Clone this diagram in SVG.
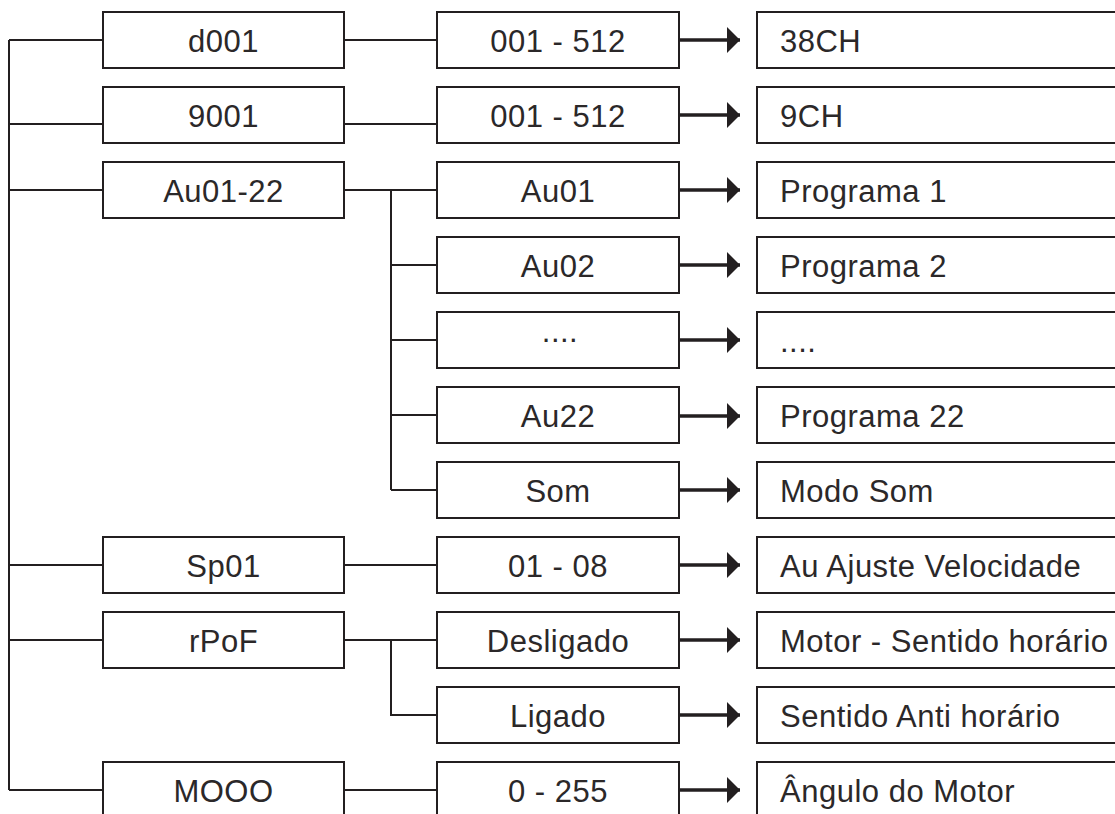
<svg xmlns="http://www.w3.org/2000/svg" width="1115" height="814" viewBox="0 0 1115 814">
<style>
.box{fill:#fff;stroke:#231f20;stroke-width:2}
.ln{fill:none;stroke:#231f20;stroke-width:2}
.ar{fill:none;stroke:#231f20;stroke-width:3.5}
text{font-family:"Liberation Sans",Arial,Helvetica,sans-serif;font-size:31px;fill:#2b2829;letter-spacing:0.5px}
.c{text-anchor:middle}
</style>
<defs>
<marker id="ah" markerUnits="userSpaceOnUse" markerWidth="14" markerHeight="26" refX="13" refY="13" orient="auto">
<path d="M0,0 L13,13 L0,26 Z" fill="#231f20"/>
</marker>
</defs>
<rect width="1115" height="814" fill="#fff"/>
<g id="connectors">
<path class="ln" d="M9,40 V790"/>
<path class="ln" d="M9,40 H103 M9,124 H103 M9,190 H103 M9,565 H103 M9,640 H103 M9,790 H103"/>
<path class="ln" d="M344,40 H437 M344,124 H437 M344,565 H437 M344,790 H437"/>
<path class="ln" d="M344,190 H437 M391,190 V490 M391,265 H437 M391,340 H437 M391,415 H437 M391,490 H437"/>
<path class="ln" d="M344,640 H437 M391,640 V715 H437"/>
<g class="ar" marker-end="url(#ah)">
<path d="M679,40 H740"/>
<path d="M679,115 H740"/>
<path d="M679,190 H740"/>
<path d="M679,265 H740"/>
<path d="M679,340 H740"/>
<path d="M679,416 H740"/>
<path d="M679,490 H740"/>
<path d="M679,565 H740"/>
<path d="M679,640 H740"/>
<path d="M679,715 H740"/>
<path d="M679,790 H740"/>
</g>
</g>
<g id="n-d001"><rect class="box" x="103" y="12" width="241" height="56"/><text class="c" x="223.5" y="52">d001</text></g>
<g id="n-9001"><rect class="box" x="103" y="87" width="241" height="56"/><text class="c" x="223.5" y="127">9001</text></g>
<g id="n-au0122"><rect class="box" x="103" y="162" width="241" height="56"/><text class="c" x="223.5" y="202">Au01-22</text></g>
<g id="n-sp01"><rect class="box" x="103" y="537" width="241" height="56"/><text class="c" x="223.5" y="577">Sp01</text></g>
<g id="n-rpof"><rect class="box" x="103" y="612" width="241" height="56"/><text class="c" x="223.5" y="652">rPoF</text></g>
<g id="n-mooo"><rect class="box" x="103" y="762" width="241" height="56"/><text class="c" x="223.5" y="802">MOOO</text></g>

<g id="n-r1"><rect class="box" x="437" y="12" width="242" height="56"/><text class="c" x="558" y="52">001 - 512</text></g>
<g id="n-r2"><rect class="box" x="437" y="87" width="242" height="56"/><text class="c" x="558" y="127">001 - 512</text></g>
<g id="n-au01"><rect class="box" x="437" y="162" width="242" height="56"/><text class="c" x="558" y="202">Au01</text></g>
<g id="n-au02"><rect class="box" x="437" y="237" width="242" height="56"/><text class="c" x="558" y="277">Au02</text></g>
<g id="n-dots"><rect class="box" x="437" y="312" width="242" height="56"/><text class="c" x="560" y="342">....</text></g>
<g id="n-au22"><rect class="box" x="437" y="387" width="242" height="56"/><text class="c" x="558" y="427">Au22</text></g>
<g id="n-som"><rect class="box" x="437" y="462" width="242" height="56"/><text class="c" x="558" y="502">Som</text></g>
<g id="n-0108"><rect class="box" x="437" y="537" width="242" height="56"/><text class="c" x="558" y="577">01 - 08</text></g>
<g id="n-desl"><rect class="box" x="437" y="612" width="242" height="56"/><text class="c" x="558" y="652">Desligado</text></g>
<g id="n-lig"><rect class="box" x="437" y="687" width="242" height="56"/><text class="c" x="558" y="727">Ligado</text></g>
<g id="n-0255"><rect class="box" x="437" y="762" width="242" height="56"/><text class="c" x="558" y="802">0 - 255</text></g>

<g id="n-38ch"><rect class="box" x="757" y="12" width="400" height="56"/><text x="780" y="52">38CH</text></g>
<g id="n-9ch"><rect class="box" x="757" y="87" width="400" height="56"/><text x="780" y="127">9CH</text></g>
<g id="n-p1"><rect class="box" x="757" y="162" width="400" height="56"/><text x="780" y="202">Programa 1</text></g>
<g id="n-p2"><rect class="box" x="757" y="237" width="400" height="56"/><text x="780" y="277">Programa 2</text></g>
<g id="n-pdots"><rect class="box" x="757" y="312" width="400" height="56"/><text x="780" y="352">....</text></g>
<g id="n-p22"><rect class="box" x="757" y="387" width="400" height="56"/><text x="780" y="427">Programa 22</text></g>
<g id="n-modo"><rect class="box" x="757" y="462" width="400" height="56"/><text x="780" y="502">Modo Som</text></g>
<g id="n-vel"><rect class="box" x="757" y="537" width="400" height="56"/><text x="780" y="577">Au Ajuste Velocidade</text></g>
<g id="n-mot"><rect class="box" x="757" y="612" width="400" height="56"/><text x="780" y="652">Motor - Sentido horário</text></g>
<g id="n-anti"><rect class="box" x="757" y="687" width="400" height="56"/><text x="780" y="727">Sentido Anti horário</text></g>
<g id="n-ang"><rect class="box" x="757" y="762" width="400" height="56"/><text x="780" y="802">Ângulo do Motor</text></g>
</svg>
